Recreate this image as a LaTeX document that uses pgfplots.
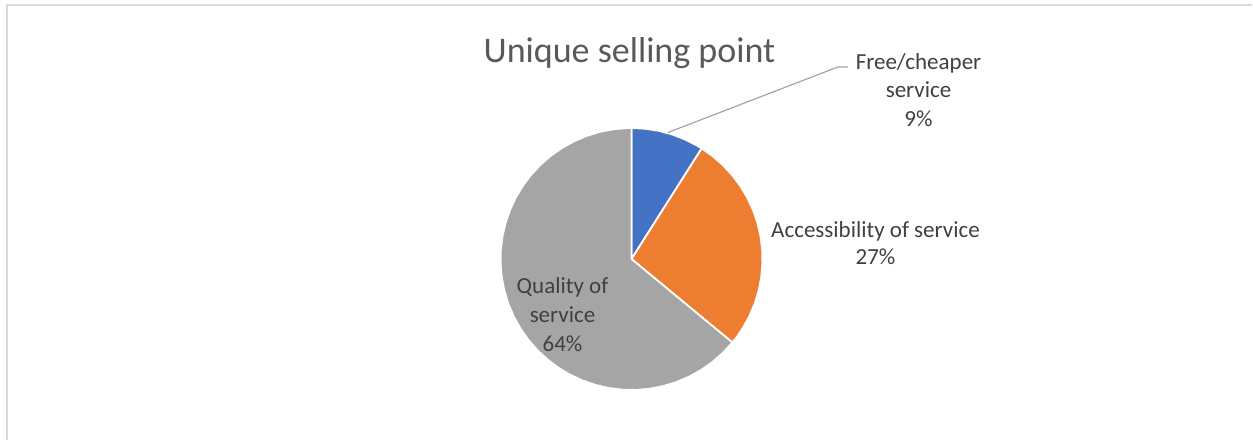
\documentclass[border=0pt]{standalone}
\usepackage{pgfplots}
\pgfplotsset{compat=1.18}
\usepackage{fontspec}
\setmainfont{Carlito}

\definecolor{sblue}{HTML}{4472C4}
\definecolor{sorange}{HTML}{ED7D31}
\definecolor{sgray}{HTML}{A5A5A5}
\definecolor{ttl}{HTML}{595959}
\definecolor{lbl}{HTML}{404040}
\definecolor{frame}{HTML}{D9D9D9}

\begin{document}
\begin{tikzpicture}[x=1pt,y=1pt]
\useasboundingbox (0,0) rectangle (1253,440);
\draw[frame, line width=1.5pt] (7,0) -- (7,435) -- (1252,435);

% pie: 9% / 27% / 64%, starting at 12 o'clock, clockwise
\begin{axis}[
    scale only axis, width=262pt, height=262pt,
    at={(500.5pt,50pt)}, anchor=south west,
    xmin=-1, xmax=1, ymin=-1, ymax=1,
    hide axis, clip=false,
  ]
  % Free/cheaper service, 9%
  \addplot[fill=sblue, draw=white, line width=1.8pt, line join=round, data cs=polar]
    coordinates {(0,0) (90,1) (84,1) (78,1) (72,1) (66,1) (60,1) (57.6,1) (0,0)};
  % Accessibility of service, 27%
  \addplot[fill=sorange, draw=white, line width=1.8pt, line join=round, data cs=polar]
    coordinates {(0,0) (57.6,1) (52,1) (46,1) (40,1) (34,1) (28,1) (22,1) (16,1)
      (10,1) (4,1) (-2,1) (-8,1) (-14,1) (-20,1) (-26,1) (-32,1) (-36,1) (-39.6,1) (0,0)};
  % Quality of service, 64%
  \addplot[fill=sgray, draw=white, line width=1.8pt, line join=round, data cs=polar]
    coordinates {(0,0) (-39.6,1) (-46,1) (-52,1) (-58,1) (-64,1) (-70,1) (-76,1)
      (-82,1) (-88,1) (-94,1) (-100,1) (-106,1) (-112,1) (-118,1) (-124,1) (-130,1)
      (-136,1) (-142,1) (-148,1) (-154,1) (-160,1) (-166,1) (-172,1) (-178,1)
      (-184,1) (-190,1) (-196,1) (-202,1) (-208,1) (-214,1) (-220,1) (-226,1)
      (-232,1) (-238,1) (-244,1) (-250,1) (-256,1) (-262,1) (-268,1) (-270,1) (0,0)};
  % leader line for the small slice
  \addplot[draw=sgray, line width=1.2pt]
    coordinates {(0.279,0.966) (1.576,1.466) (1.653,1.466)};
\end{axis}

\node[anchor=base, text=ttl, font=\fontsize{36}{43}\selectfont] at (629.5,377) {Unique selling point};

\begin{scope}[every node/.style={anchor=base, text=lbl, font=\fontsize{23}{28}\selectfont}]
  \node at (918.5,370) {Free/cheaper};
  \node at (918.5,342) {service};
  \node at (918.5,313) {9\%};
  \node at (875.5,203) {Accessibility of service};
  \node at (875.5,176) {27\%};
  \node at (562.5,147) {Quality of};
  \node at (562.5,118) {service};
  \node at (562.5,89) {64\%};
\end{scope}
\end{tikzpicture}
\end{document}
